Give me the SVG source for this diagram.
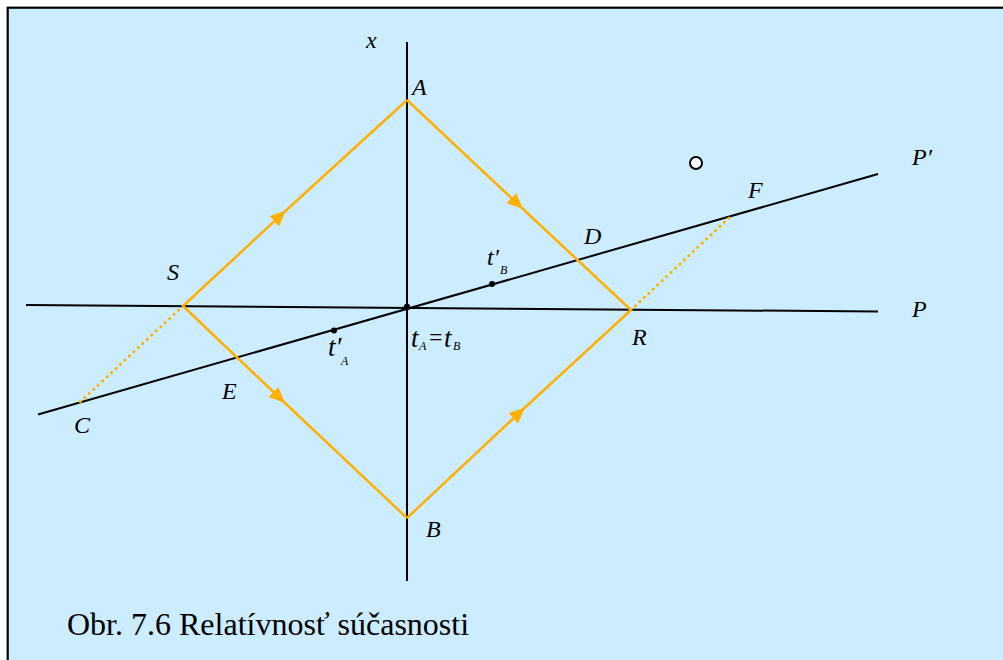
<svg xmlns="http://www.w3.org/2000/svg" width="1003" height="660" viewBox="0 0 1003 660">
<defs>
<marker id="arr" markerUnits="userSpaceOnUse" markerWidth="18" markerHeight="16" refX="16" refY="7" orient="auto" viewBox="0 0 18 16">
<path d="M0,0 L16,7 L0,14 z" fill="#FFB000"/>
</marker>
</defs>
<rect x="0" y="0" width="1003" height="660" fill="#fff"/>
<rect x="7.7" y="7.7" width="1010" height="670" fill="#CCECFF" stroke="#000" stroke-width="2.2"/>
<g id="connectors">
<g stroke="#000" stroke-width="2" fill="none">
<line x1="407" y1="42" x2="407" y2="581"/>
<line x1="26" y1="305" x2="878" y2="311.5"/>
<line x1="38" y1="414.5" x2="878" y2="174"/>
</g>
<g stroke="#FFB000" stroke-width="2.5" fill="none">
<path d="M183,306 L286,210.5 L407,100" marker-mid="url(#arr)"/>
<path d="M407,100 L523,209 L631,310" marker-mid="url(#arr)"/>
<path d="M183,306 L285,403 L407,518" marker-mid="url(#arr)"/>
<path d="M407,518 L525,407.5 L631,310" marker-mid="url(#arr)"/>
</g>
<g stroke="#FFB000" stroke-width="3" fill="none" stroke-linecap="round" stroke-dasharray="0.1 6">
<line x1="183" y1="306" x2="79" y2="403"/>
<line x1="631" y1="310" x2="731" y2="216"/>
</g>
</g>
<g id="points">
<circle cx="407" cy="307" r="3.2" fill="#000"/>
<circle cx="492" cy="284" r="3" fill="#000"/>
<circle cx="334" cy="330.5" r="3" fill="#000"/>
<circle cx="696" cy="163" r="6" fill="#fff" stroke="#000" stroke-width="2"/>
</g>
<text x="366" y="48" font-family="Liberation Serif" font-style="italic" font-size="24">x</text>
<text x="412" y="95" font-family="Liberation Serif" font-style="italic" font-size="24">A</text>
<text x="426" y="537" font-family="Liberation Serif" font-style="italic" font-size="24">B</text>
<text x="167" y="280" font-family="Liberation Serif" font-style="italic" font-size="24">S</text>
<text x="632" y="345" font-family="Liberation Serif" font-style="italic" font-size="24">R</text>
<text x="584" y="244" font-family="Liberation Serif" font-style="italic" font-size="24">D</text>
<text x="222" y="399" font-family="Liberation Serif" font-style="italic" font-size="24">E</text>
<text x="74" y="433" font-family="Liberation Serif" font-style="italic" font-size="24">C</text>
<text x="748" y="198" font-family="Liberation Serif" font-style="italic" font-size="24">F</text>
<text x="912" y="165" font-family="Liberation Serif" font-style="italic" font-size="24">P′</text>
<text x="912" y="317" font-family="Liberation Serif" font-style="italic" font-size="24">P</text>
<text x="487" y="265" font-family="Liberation Serif" font-style="italic" font-size="24">t′</text>
<text x="500" y="274" font-family="Liberation Serif" font-style="italic" font-size="12">B</text>
<text x="328" y="356" font-family="Liberation Serif" font-style="italic" font-size="27">t′</text>
<text x="341" y="365" font-family="Liberation Serif" font-style="italic" font-size="12">A</text>
<text x="411" y="347" font-family="Liberation Serif" font-style="italic" font-size="27">t</text>
<text x="419" y="350" font-family="Liberation Serif" font-style="italic" font-size="12">A</text>
<text x="429" y="345" font-family="Liberation Serif" font-size="24">=</text>
<text x="444" y="347" font-family="Liberation Serif" font-style="italic" font-size="27">t</text>
<text x="453" y="350" font-family="Liberation Serif" font-style="italic" font-size="12">B</text>
<text x="67" y="635" font-family="Liberation Serif" font-size="32">Obr. 7.6 Relatívnosť súčasnosti</text>
</svg>
